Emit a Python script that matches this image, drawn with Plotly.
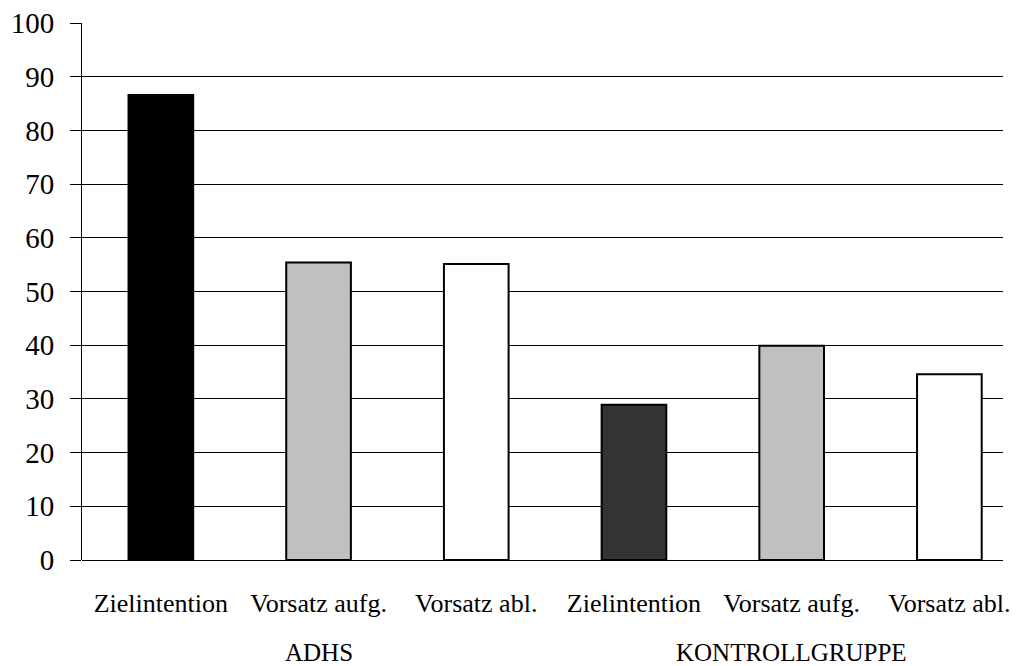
import plotly.graph_objects as go

categories = ["Zielintention", "Vorsatz aufg.", "Vorsatz abl.",
              "Zielintention", "Vorsatz aufg.", "Vorsatz abl."]
values = [86.6, 55.4, 55.1, 28.9, 39.9, 34.6]
groups = ["ADHS", "KONTROLLGRUPPE"]
group_center_index = [1, 4]
bar_colors = ["#000000", "#C0C0C0", "#FFFFFF", "#333333", "#C0C0C0", "#FFFFFF"]
y_ticks = list(range(0, 101, 10))

xs = list(range(len(categories)))
font_family = "Liberation Serif, Times New Roman, serif"

fig = go.Figure()
fig.add_trace(go.Bar(
    x=xs, y=values,
    marker=dict(color=bar_colors, line=dict(color="#000000", width=2)),
    width=0.41,
    showlegend=False,
    hoverinfo="skip",
))

for g, ci in zip(groups, group_center_index):
    fig.add_annotation(x=ci, y=0, xref="x", yref="paper", text=g,
                       showarrow=False, yshift=-107, borderpad=0,
                       font=dict(family=font_family, size=25, color="#000000"))

fig.update_layout(
    width=1018, height=666,
    margin=dict(l=82, r=15, t=23, b=106, autoexpand=False),
    paper_bgcolor="white", plot_bgcolor="white",
    bargap=0.58,
    font=dict(family=font_family, color="#000000"),
)
fig.update_xaxes(
    range=[-0.5, 5.34], automargin=False,
    tickmode="array", tickvals=xs, ticktext=categories,
    tickfont=dict(family=font_family, size=26, color="#000000"),
    showgrid=False, zeroline=False, showline=False,
    ticks="", ticklabelstandoff=25,
)
fig.update_yaxes(
    range=[0, 100], automargin=False,
    tickmode="array", tickvals=y_ticks,
    tickfont=dict(family=font_family, size=29, color="#000000"),
    showgrid=True, gridcolor="#000000", gridwidth=1,
    showline=True, linecolor="#000000", linewidth=1,
    zeroline=True, zerolinecolor="#000000", zerolinewidth=1,
    ticks="outside", ticklen=11, tickcolor="#000000", tickwidth=1,
    ticklabelstandoff=10,
)

fig.write_html("out.html",
               config={"displayModeBar": False},
               post_script="document.body.style.margin='0';document.body.style.overflow='hidden';")
